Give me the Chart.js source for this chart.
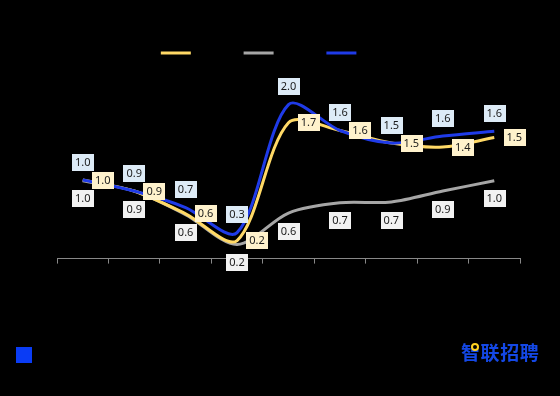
<!DOCTYPE html>
<html>
<head>
<meta charset="utf-8">
<script src="https://cdn.jsdelivr.net/npm/chart.js@4/dist/chart.umd.min.js"></script>
<style>
  html, body { margin: 0; padding: 0; background: #000; }
  #wrap { position: relative; width: 560px; height: 396px; background: #000; }
  #square { position: absolute; left: 16px; top: 347px; width: 16px; height: 16px; background: #0A3CF5; }
  #logo { position: absolute; left: 461px; top: 338px; font: bold 19px "Noto Sans CJK SC", sans-serif; color: #1448E6; letter-spacing: 0.6px; }
  #dot { position: absolute; left: 471px; top: 343px; width: 4px; height: 4px; border: 2px solid #FFD21F; border-radius: 50%; background: #000; }
</style>
</head>
<body>
<div id="wrap">
  <canvas id="myChart" width="560" height="396"></canvas>
  <div id="square"></div>
  <div id="logo">智联招聘</div>
  <div id="dot"></div>
</div>
<script>
let categories = ['1月', '2月', '3月', '4月', '5月', '6月', '7月', '8月', '9月'];
let seriesNames = ['系列1', '系列2', '系列3'];

let yellowData = [1.0, 0.86, 0.57, 0.23, 1.73, 1.63, 1.47, 1.42, 1.54];
let grayData = [0.99, 0.86, 0.56, 0.18, 0.58, 0.71, 0.72, 0.86, 0.99];
let blueData = [1.0, 0.86, 0.65, 0.33, 1.96, 1.63, 1.47, 1.56, 1.62];

let yellow = '#FFD966';
let gray = '#A6A6A6';
let blue = '#1F3BE8';

// boxed value labels: yellow right, blue above, gray below
const boxLabels = {
  id: 'boxLabels',
  afterDatasetsDraw(chart) {
    const ctx = chart.ctx;
    const setup = [
      { dx: 20, dy: 0, bg: '#FFF2CC' },
      { dx: 0, dy: 18, bg: '#F2F2F2' },
      { dx: 0, dy: -18, bg: '#DDEBF7' },
    ];
    ctx.save();
    ctx.font = '11px "Noto Sans", sans-serif';
    ctx.textAlign = 'center';
    ctx.textBaseline = 'middle';
    chart.data.datasets.forEach((ds, i) => {
      const meta = chart.getDatasetMeta(i);
      const s = setup[i];
      meta.data.forEach((pt, j) => {
        const txt = ds.data[j].toFixed(1);
        const x = pt.x + s.dx;
        const y = pt.y + s.dy;
        const w = ctx.measureText(txt).width + 6;
        const h = 17;
        ctx.fillStyle = s.bg;
        ctx.fillRect(Math.round(x - w / 2), Math.round(y - h / 2), Math.round(w), h);
        ctx.fillStyle = '#1a1a1a';
        ctx.fillText(txt, x, y + 0.5);
      });
    });
    ctx.restore();
  },
};

const ctx = document.getElementById('myChart');

new Chart(ctx, {
  type: 'line',
  data: {
    labels: categories,
    datasets: [
      {
        label: seriesNames[0],
        data: yellowData,
        borderColor: yellow,
        backgroundColor: yellow,
        borderWidth: 3,
        pointRadius: 0,
        tension: 0.3,
        order: 1,
      },
      {
        label: seriesNames[1],
        data: grayData,
        borderColor: gray,
        backgroundColor: gray,
        borderWidth: 3,
        pointRadius: 0,
        tension: 0.3,
        order: 2,
      },
      {
        label: seriesNames[2],
        data: blueData,
        borderColor: blue,
        backgroundColor: blue,
        borderWidth: 3,
        pointRadius: 0,
        tension: 0.3,
        order: 0,
      },
    ],
  },
  plugins: [boxLabels],
  options: {
    responsive: false,
    animation: false,
    layout: {
      padding: { left: 0, right: 0, top: 36, bottom: 112 },
    },
    plugins: {
      tooltip: { enabled: false },
      legend: {
        position: 'top',
        labels: {
          color: '#000',
          boxWidth: 30,
          boxHeight: 3,
          font: { size: 14 },
          sort: (a, b) => a.datasetIndex - b.datasetIndex,
          generateLabels: (chart) => {
            const items = Chart.defaults.plugins.legend.labels.generateLabels(chart);
            items.forEach((it) => {
              it.lineWidth = 0;
            });
            return items;
          },
        },
      },
    },
    scales: {
      x: {
        offset: true,
        grid: {
          drawOnChartArea: false,
          drawTicks: true,
          tickLength: 5,
          color: '#888',
          offset: true,
        },
        border: { color: '#888', width: 1 },
        ticks: { color: '#000', font: { size: 12 } },
      },
      y: {
        min: 0,
        max: 2.4,
        grid: { display: false },
        border: { display: false },
        ticks: { display: false },
        afterFit: (scale) => {
          scale.width = 57;
        },
      },
      yRight: {
        position: 'right',
        min: 0,
        max: 2.4,
        grid: { display: false },
        border: { display: false },
        ticks: { display: false },
        afterFit: (scale) => {
          scale.width = 40;
        },
      },
    },
  },
});
</script>
</body>
</html>
